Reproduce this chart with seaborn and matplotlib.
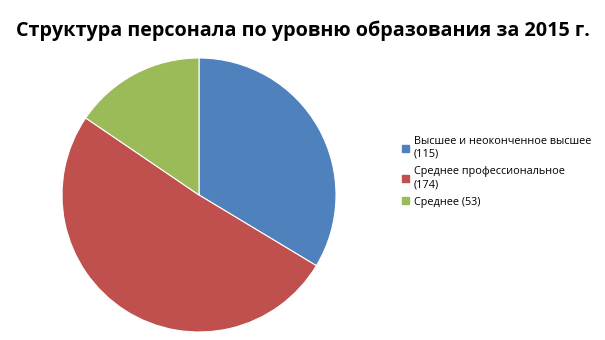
import matplotlib
matplotlib.use("Agg")
import matplotlib.pyplot as plt
import seaborn as sns
from matplotlib.patches import Patch

categories = ["Высшее и неоконченное высшее", "Среднее профессиональное", "Среднее"]
values = [115, 174, 53]
legend_labels = ["Высшее и неоконченное высшее\n(115)", "Среднее профессиональное\n(174)", "Среднее (53)"]
title = "Структура персонала по уровню образования за 2015 г."

sns.set_theme(style="white")
plt.rcParams['font.family'] = ['Open Sans', 'DejaVu Sans']
colors = sns.color_palette(["#4F81BD", "#C0504D", "#9BBB59"])

fig = plt.figure(figsize=(6.05, 3.40), dpi=100)
ax = fig.add_axes([62/605, (340-195-137)/340, 274/605, 274/340])
ax.pie(values, colors=colors, startangle=90, counterclock=False,
       wedgeprops=dict(edgecolor="white", linewidth=0.8))
ax.set_xlim(-1, 1)
ax.set_ylim(-1, 1)
ax.set_aspect("equal")

fig.text(0.5, 1 - 31/340, title, ha="center", va="center", fontsize=14.2,
         fontweight="bold", color="black")

handles = [Patch(facecolor=c, edgecolor=c) for c in colors]
fig.legend(handles, legend_labels, loc="upper left",
           bbox_to_anchor=(398/605, 1 - 132/340), frameon=False,
           fontsize=7.8, handlelength=0.65, handleheight=0.65,
           handletextpad=0.4, labelspacing=0.6, borderaxespad=0,
           labelcolor="black")

fig.savefig("out.png", dpi=100)
